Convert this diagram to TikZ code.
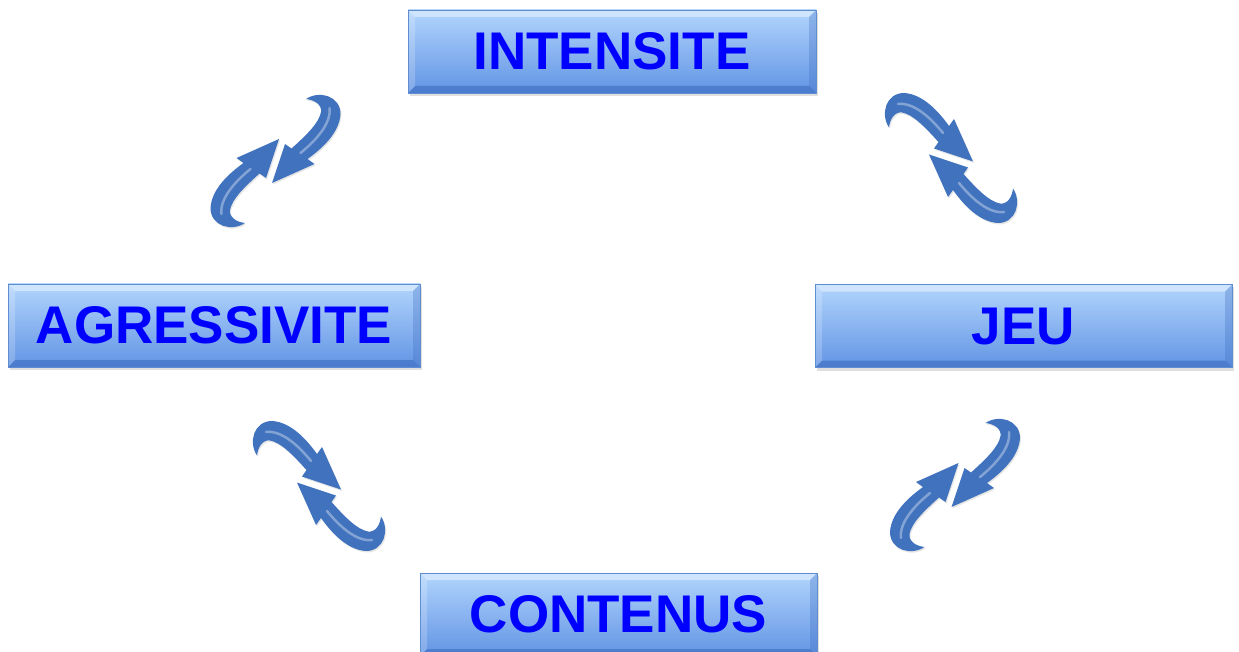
\documentclass[tikz,border=0pt]{standalone}
\usepackage{fontspec}
\setmainfont{Liberation Sans}
\usetikzlibrary{shadows}

\definecolor{facetop}{RGB}{178,213,253}
\definecolor{facebot}{RGB}{98,148,228}
\definecolor{edgeblue}{RGB}{96,140,210}
\definecolor{bevlight}{RGB}{212,233,254}
\definecolor{bevdark}{RGB}{60,108,190}
\definecolor{labelblue}{RGB}{0,0,255}
\definecolor{arrowblue}{RGB}{64,114,190}

% one curved half of an exchange arrow, drawn around the local origin
\newcommand{\halfexchange}{%
  \fill[arrowfill] (-39,-3) -- (3.5,-22) -- (-9.5,17) -- (-16,12.5)
    .. controls (-31,26) and (-43.5,38) .. (-45.5,49)
    .. controls (-46.5,56) and (-39.5,61) .. (-30.5,62)
    .. controls (-44,71) and (-65,65) .. (-65,47)
    .. controls (-64,28) and (-46,12) .. (-32,2) -- cycle;
  \draw[arrowshine] (-25,8) .. controls (-41,21) and (-56,38) .. (-54,53);
}
% the two halves, point-symmetric about the local origin
\newcommand{\exchangepair}{%
  \halfexchange
  \begin{scope}[rotate=180]
    \halfexchange
  \end{scope}
}

\begin{document}
\begin{tikzpicture}[x=1pt,y=-1pt,
  stagebox/.style={rectangle, inner sep=0pt, minimum height=83pt,
    text height=36.5pt, text depth=0pt,
    font=\fontsize{53}{53}\selectfont\bfseries, text=labelblue,
    top color=facetop, bottom color=facebot,
    draw=edgeblue, line width=0.5pt,
    drop shadow={opacity=0.25, shadow xshift=2pt, shadow yshift=-3pt},
    path picture={
      \fill[bevlight, opacity=0.85]
        (path picture bounding box.north west) -- (path picture bounding box.north east)
        -- ([shift={(-7pt,-7pt)}]path picture bounding box.north east)
        -- ([shift={(7pt,-7pt)}]path picture bounding box.north west) -- cycle;
      \fill[bevdark, opacity=0.6]
        (path picture bounding box.south west) -- (path picture bounding box.south east)
        -- ([shift={(-7pt,7pt)}]path picture bounding box.south east)
        -- ([shift={(7pt,7pt)}]path picture bounding box.south west) -- cycle;
      \fill[white, opacity=0.2]
        (path picture bounding box.north west) -- ([shift={(7pt,-7pt)}]path picture bounding box.north west)
        -- ([shift={(7pt,7pt)}]path picture bounding box.south west)
        -- (path picture bounding box.south west) -- cycle;
      \fill[bevdark, opacity=0.3]
        (path picture bounding box.north east) -- ([shift={(-7pt,-7pt)}]path picture bounding box.north east)
        -- ([shift={(-7pt,7pt)}]path picture bounding box.south east)
        -- (path picture bounding box.south east) -- cycle;
    }},
  arrowfill/.style={fill=arrowblue,
    drop shadow={opacity=0.2, shadow xshift=1pt, shadow yshift=-1.5pt}},
  arrowshine/.style={draw=white, opacity=0.35, line width=2.5pt, line cap=round}]

  \clip (0,0) rectangle (1239,652);

  % the four stages
  \node[stagebox, minimum width=408pt] (intensite)   at (612,51.5)    {INTENSITE};
  \node[stagebox, minimum width=412pt] (agressivite) at (214,325.5)   {AGRESSIVITE};
  \node[stagebox, minimum width=417pt] (jeu)         at (1023.5,326)  {JEU};
  \node[stagebox, minimum width=397pt] (contenus)    at (618.5,614.5) {CONTENUS};

  % centres of the exchange arrows between neighbouring stages
  \coordinate (ai) at (275.5,161);
  \coordinate (ij) at (951,158);
  \coordinate (ac) at (319,486);
  \coordinate (jc) at (955,485);

  \begin{scope}[shift={(ai)}]
    \exchangepair
  \end{scope}
  \begin{scope}[shift={(ij)}, rotate=90]
    \exchangepair
  \end{scope}
  \begin{scope}[shift={(ac)}, rotate=90]
    \exchangepair
  \end{scope}
  \begin{scope}[shift={(jc)}]
    \exchangepair
  \end{scope}
\end{tikzpicture}
\end{document}
